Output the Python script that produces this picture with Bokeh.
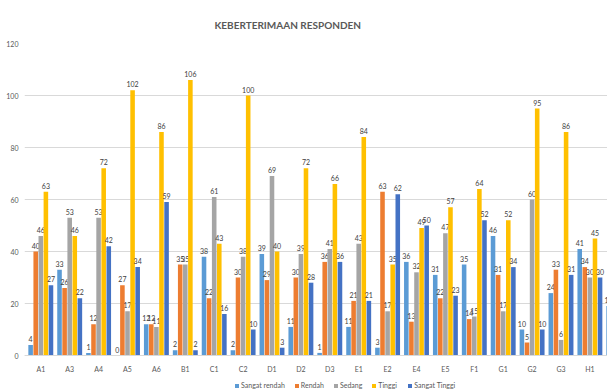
import math
from bokeh.plotting import figure
from bokeh.models import Range1d, FixedTicker, ColumnDataSource, Legend, LegendItem
from bokeh.core.properties import value
from bokeh.embed import file_html
from bokeh.resources import INLINE

categories = ["A1", "A3", "A4", "A5", "A6", "B1", "C1", "C2", "D1", "D2",
              "D3", "E1", "E2", "E4", "E5", "F1", "G1", "G2", "G3", "H1", ""]
series_names = ["Sangat rendah", "Rendah", "Sedang", "Tinggi", "Sangat Tinggi"]
sangat_rendah = [4, 33, 1, 0, 12, 2, 38, 2, 39, 11, 1, 11, 3, 36, 31, 35, 46, 10, 24, 41, 19]
rendah = [40, 26, 12, 27, 12, 35, 22, 30, 29, 30, 36, 21, 63, 13, 22, 14, 31, 5, 33, 34, None]
sedang = [46, 53, 53, 17, 11, 35, 61, 38, 69, 39, 41, 43, 17, 32, 47, 15, 17, 60, 6, 30, None]
tinggi = [63, 46, 72, 102, 86, 106, 43, 100, 40, 72, 66, 84, 35, 49, 57, 64, 52, 95, 86, 45, None]
sangat_tinggi = [27, 22, 42, 34, 59, 2, 16, 10, 3, 28, 36, 21, 62, 50, 23, 52, 34, 10, 31, 30, None]
y_ticks = [0, 20, 40, 60, 80, 100, 120]

colors = ["#5B9BD5", "#ED7D31", "#A5A5A5", "#FFC000", "#4472C4"]
FONT = "Lato"
series = [sangat_rendah, rendah, sedang, tinggi, sangat_tinggi]

p = figure(width=607, height=392, output_backend="svg", toolbar_location=None,
           x_range=Range1d(-0.564, 19.609), y_range=Range1d(-14.23, 120),
           min_border_left=24, min_border_right=0, min_border_top=43, min_border_bottom=0,
           title="KEBERTERIMAAN RESPONDEN")
p.outline_line_color = None
p.background_fill_color = "white"
p.border_fill_color = "white"

p.title.text_font = FONT
p.title.text_font_size = "10px"
p.title.text_font_style = "bold"
p.title.text_color = "#595959"
p.title.align = "left"
p.title.offset = 190
p.title.standoff = 26

step = 0.176
width = 0.158
items = []
for j, (name, vals, col) in enumerate(zip(series_names, series, colors)):
    xs, tops, labels = [], [], []
    for i, v in enumerate(vals):
        if v is None:
            continue
        xs.append(i + (j - 2) * step)
        tops.append(v)
        labels.append(str(v))
    src = ColumnDataSource(dict(x=xs, top=tops, label=labels))
    r = p.vbar(x="x", top="top", bottom=0, width=width, source=src,
               fill_color=col, line_color=None)
    p.text(x="x", y="top", text="label", source=src, text_align="center",
           text_baseline="bottom", y_offset=-3, text_font=value(FONT),
           text_font_size="7px", text_color="#404040")
    items.append(LegendItem(label=name, renderers=[r]))

# axes
p.xaxis.fixed_location = 0
p.xaxis.ticker = FixedTicker(ticks=list(range(len(categories) - 1)))
p.xaxis.major_label_overrides = {i: c for i, c in enumerate(categories) if c}
p.xaxis.major_tick_line_color = None
p.xaxis.minor_tick_line_color = None
p.xaxis.axis_line_color = "#D9D9D9"
p.xaxis.major_label_text_font = FONT
p.xaxis.major_label_text_font_size = "7px"
p.xaxis.major_label_text_color = "#595959"
p.xaxis.major_label_standoff = 3
p.xgrid.grid_line_color = None

p.yaxis.ticker = FixedTicker(ticks=y_ticks)
p.yaxis.major_tick_line_color = None
p.yaxis.minor_tick_line_color = None
p.yaxis.axis_line_color = None
p.yaxis.major_label_text_font = FONT
p.yaxis.major_label_text_font_size = "7px"
p.yaxis.major_label_text_color = "#595959"
p.yaxis.major_label_standoff = 0
p.ygrid.grid_line_color = "#D9D9D9"
p.ygrid.grid_line_width = 1

legend = Legend(items=items, orientation="horizontal", location=(210, 3),
                label_text_font=FONT, label_text_font_size="7px",
                label_text_color="#595959", glyph_width=5, glyph_height=5,
                label_standoff=2, spacing=9, padding=0, margin=0,
                border_line_color=None, background_fill_alpha=0,
                label_height=8)
p.add_layout(legend, "center")

open("out.html", "w").write(file_html(p, INLINE))
